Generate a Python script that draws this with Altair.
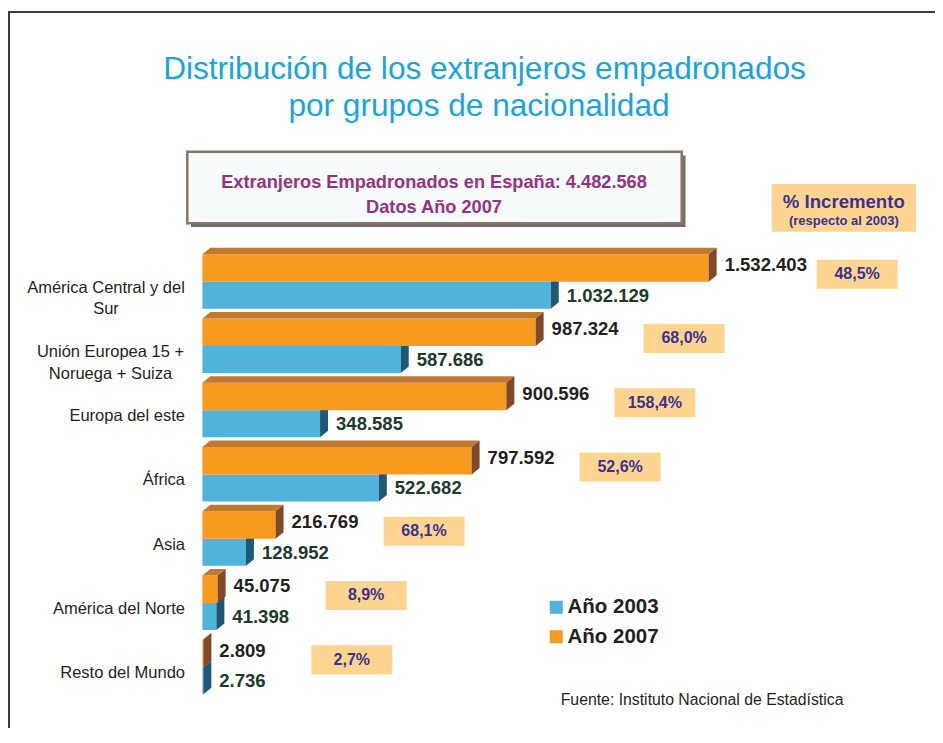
import altair as alt
import pandas as pd

# ---------------- data ----------------
categories = ["América Central y del Sur", "Unión Europea 15 + Noruega + Suiza",
              "Europa del este", "África", "Asia", "América del Norte", "Resto del Mundo"]
category_text = ["América Central y del\nSur", "Unión Europea 15 +\nNoruega + Suiza",
                 "Europa del este", "África", "Asia", "América del Norte", "Resto del Mundo"]
values_2003 = [1032129, 587686, 348585, 522682, 128952, 41398, 2736]
values_2007 = [1532403, 987324, 900596, 797592, 216769, 45075, 2809]
increments = ["48,5%", "68,0%", "158,4%", "52,6%", "68,1%", "8,9%", "2,7%"]
series_names = ["Año 2003", "Año 2007"]
title_lines = ["Distribución de los extranjeros empadronados", "por grupos de nacionalidad"]
subtitle_lines = ["Extranjeros Empadronados en España: 4.482.568", "Datos Año 2007"]
increment_header = ["% Incremento", "(respecto al 2003)"]
source_text = "Fuente: Instituto Nacional de Estadística"
X_MAX = 1500000  # axis limit of the original chart (longer bars are cut there)

# ---------------- style ----------------
FONT = "Liberation Sans"
BLUE, BLUE_SIDE = "#51b3da", "#1f5876"
ORANGE, ORANGE_TOP, ORANGE_SIDE = "#f79a1e", "#c17930", "#804a28"
W, H = 927, 720
X_RANGE = [194.4, 700.65]
Y_RANGE = [273.7, 659.2]
n = len(categories)
ux = X_MAX / (X_RANGE[1] - X_RANGE[0])          # data units per px (x)
uy = (n - 1) / (Y_RANGE[1] - Y_RANGE[0])        # data units per px (y)
DX = 8 * ux
DY = 6.5 * uy
H07 = 27.5 * uy
H03 = 27.0 * uy

def fmt(v):
    return f"{v:,}".replace(",", ".")

rows = []
for i in range(n):
    rows.append(dict(cat=categories[i], i=i, serie="Año 2003", v=values_2003[i],
                     vc=min(values_2003[i], X_MAX), lab=fmt(values_2003[i]),
                     y=i, y2=i + H03, ylab=i + 14 * uy))
    rows.append(dict(cat=categories[i], i=i, serie="Año 2007", v=values_2007[i],
                     vc=min(values_2007[i], X_MAX), lab=fmt(values_2007[i]),
                     y=i - H07, y2=i, ylab=i - 16.5 * uy))
bars = pd.DataFrame(rows)
bars["x0"] = 0
b03 = bars[bars.serie == "Año 2003"]
b07 = bars[bars.serie == "Año 2007"]

# 3D faces (built from the values)
top_rows, side07, side03 = [], [], []
for i in range(n):
    v = min(values_2007[i], X_MAX)
    t = i - H07
    for x in sorted({0, v, DX, v + DX}):
        lo = t if x <= v else t - DY * (x - v) / DX
        hi = t - DY * x / DX if x <= DX else t - DY
        top_rows.append(dict(k=i, x=x, y=lo, y2=hi))
    side07.append(dict(k=i, x=v, y=i, y2=t))
    side07.append(dict(k=i, x=v + DX, y=i - DY, y2=t - DY))
    vb = min(values_2003[i], X_MAX)
    side03.append(dict(k=i, x=vb, y=i + H03, y2=i))
    side03.append(dict(k=i, x=vb + DX, y=i + H03 - DY, y2=i - DY))
top_df, s07_df, s03_df = pd.DataFrame(top_rows), pd.DataFrame(side07), pd.DataFrame(side03)

inc = pd.DataFrame(dict(i=list(range(n)), vc=[min(v, X_MAX) for v in values_2007], txt=increments))
cats = pd.DataFrame(dict(i=list(range(n)), txt=category_text, yl=[k + 6 * uy for k in range(n)]))

XS = alt.Scale(domain=[0, X_MAX], range=X_RANGE, nice=False, zero=False)
YS = alt.Scale(domain=[0, n - 1], range=Y_RANGE, nice=False, zero=False)
color = alt.Color("serie:N", scale=alt.Scale(domain=series_names, range=[BLUE, ORANGE]),
                  legend=alt.Legend(orient="none", legendX=538, legendY=589, title=None,
                                    symbolType="square", symbolSize=169, symbolStrokeWidth=0,
                                    labelFontSize=20.5, labelFontWeight="bold", labelFont=FONT,
                                    labelColor="#231f20", labelOffset=1, rowPadding=8.5,
                                    padding=0, direction="vertical"))

one = pd.DataFrame({"d": [0]})

def area(df, col):
    return alt.Chart(df).mark_area(orient="vertical", color=col, interpolate="linear").encode(
        x=alt.X("x:Q", scale=XS, axis=None),
        y=alt.Y("y:Q", scale=YS, axis=None, stack=None),
        y2="y2:Q",
        detail="k:N",
    )

front03 = alt.Chart(b03).mark_rect().encode(
    x=alt.X("x0:Q", scale=XS, axis=None), x2="vc:Q",
    y=alt.Y("y:Q", scale=YS, axis=None), y2="y2:Q", color=color)
front07 = alt.Chart(b07).mark_rect().encode(
    x=alt.X("x0:Q", scale=XS, axis=None), x2="vc:Q",
    y=alt.Y("y:Q", scale=YS, axis=None), y2="y2:Q", color=color)

lab03 = alt.Chart(b03).mark_text(align="left", baseline="middle", dx=16, font=FONT,
                                 fontSize=18.5, fontWeight="bold", color="#1b3a29").encode(
    x=alt.X("vc:Q", scale=XS, axis=None), y=alt.Y("ylab:Q", scale=YS, axis=None), text="lab:N")
lab07 = alt.Chart(b07).mark_text(align="left", baseline="middle", dx=16, font=FONT,
                                 fontSize=18.5, fontWeight="bold", color="#231f20").encode(
    x=alt.X("vc:Q", scale=XS, axis=None), y=alt.Y("ylab:Q", scale=YS, axis=None), text="lab:N")

inc_box = alt.Chart(inc).mark_rect(color="#fdd590", xOffset=108, x2Offset=189,
                                   yOffset=-22, y2Offset=7).encode(
    x=alt.X("vc:Q", scale=XS, axis=None), x2="vc:Q",
    y=alt.Y("i:Q", scale=YS, axis=None), y2="i:Q")
inc_txt = alt.Chart(inc).mark_text(align="center", baseline="middle", dx=148.5, dy=-7.5,
                                   font=FONT, fontSize=16, fontWeight="bold", color="#3b318f").encode(
    x=alt.X("vc:Q", scale=XS, axis=None), y=alt.Y("i:Q", scale=YS, axis=None), text="txt:N")

single = cats[cats.i >= 2]
cat_single = alt.Chart(single).mark_text(align="right", baseline="middle", font=FONT, fontSize=16.5,
                                         color="#231f20").encode(
    x=alt.value(177), y=alt.Y("yl:Q", scale=YS, axis=None), text="txt:N")
cat_m0 = alt.Chart(cats[cats.i == 0]).mark_text(align="center", baseline="middle", font=FONT,
                                                fontSize=16.5, color="#231f20", lineBreak="\n",
                                                lineHeight=21.7).encode(
    x=alt.value(98), y=alt.Y("yl:Q", scale=YS, axis=None), text="txt:N")
cat_m1 = alt.Chart(cats[cats.i == 1]).mark_text(align="center", baseline="middle", font=FONT,
                                                fontSize=16.5, color="#231f20", lineBreak="\n",
                                                lineHeight=21.7).encode(
    x=alt.value(102.5), y=alt.Y("yl:Q", scale=YS, axis=None), text="txt:N")

def deco_text(txt, x, y, size, color, weight="normal", align="center"):
    return alt.Chart(pd.DataFrame({"t": [txt]})).mark_text(
        align=align, baseline="middle", font=FONT, fontSize=size, fontWeight=weight, color=color
    ).encode(x=alt.value(x), y=alt.value(y), text="t:N")

def deco_rect(x, x2, y, y2, fill, stroke=None, sw=0):
    kw = dict(fill=fill)
    if stroke:
        kw.update(stroke=stroke, strokeWidth=sw)
    return alt.Chart(one).mark_rect(**kw).encode(
        x=alt.value(x), x2=alt.value(x2), y=alt.value(y), y2=alt.value(y2))

frame_top = alt.Chart(one).mark_rule(color="#3c3c3c", strokeWidth=2).encode(
    x=alt.value(0), x2=alt.value(W), y=alt.value(4))
frame_left = alt.Chart(one).mark_rule(color="#3c3c3c", strokeWidth=2).encode(
    x=alt.value(1), y=alt.value(3), y2=alt.value(H))

layers = [
    frame_top, frame_left,
    deco_text(title_lines[0], 476.5, 62, 31.6, "#18a4e0"),
    deco_text(title_lines[1], 471, 99, 31.6, "#18a4e0"),
    deco_rect(183, 677.5, 147.5, 219, "#6e6e6e"),
    deco_rect(179.3, 673.7, 143.7, 215.3, "#f8fbfc", "#8b7361", 2.5),
    deco_text(subtitle_lines[0], 426, 175.3, 18.2, "#963282", "bold"),
    deco_text(subtitle_lines[1], 426, 200.3, 18.2, "#963282", "bold"),
    deco_rect(763.7, 908, 176, 223.7, "#fdd590"),
    deco_text(increment_header[0], 835.8, 193.7, 18.6, "#3b318f", "bold"),
    deco_text(increment_header[1], 835.8, 212.7, 13, "#3b318f", "bold"),
    front03, area(s03_df, BLUE_SIDE),
    front07, area(top_df, ORANGE_TOP), area(s07_df, ORANGE_SIDE),
    lab07, lab03, inc_box, inc_txt,
    cat_single, cat_m0, cat_m1,
    deco_text(source_text, 552.7, 692, 15.8, "#231f20", "normal", "left"),
]

chart = alt.layer(*layers).properties(
    width=W, height=H, padding=0, background="white",
    autosize=alt.AutoSizeParams(type="none"),
).configure_view(strokeWidth=0)

chart.save("out.html", embed_options={"renderer": "svg", "actions": False})
